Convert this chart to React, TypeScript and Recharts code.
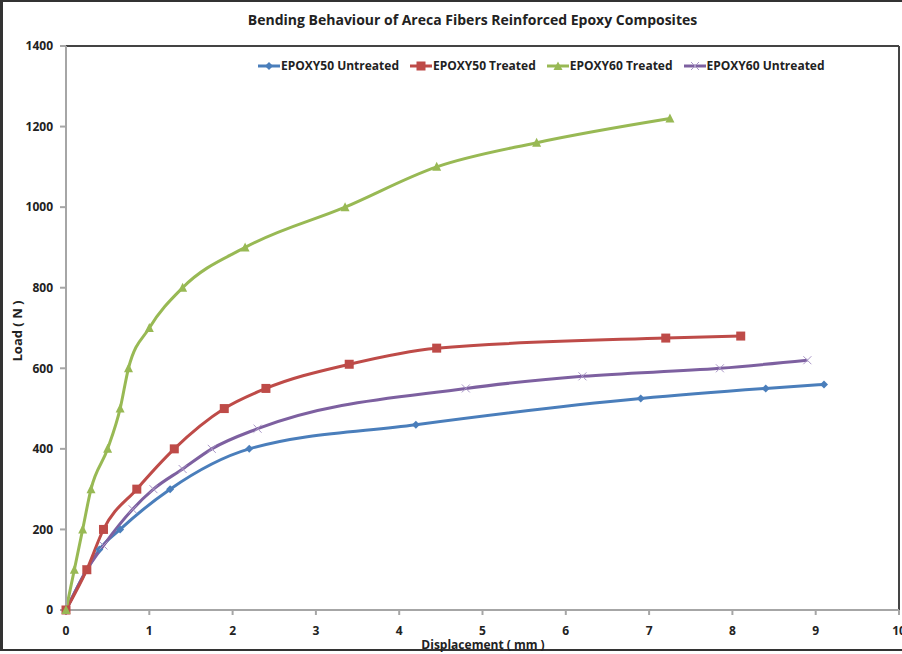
import { CartesianGrid, Line, LineChart, ReferenceLine, XAxis, YAxis } from "recharts";

// displacement (mm) and load (N)
const untreated50X = [0, 0.25, 0.4, 0.65, 1.25, 2.2, 4.2, 6.9, 8.4, 9.1];
const untreated50Y = [0, 100, 150, 200, 300, 400, 460, 525, 550, 560];

const treated50X = [0, 0.25, 0.45, 0.85, 1.3, 1.9, 2.4, 3.4, 4.45, 7.2, 8.1];
const treated50Y = [0, 100, 200, 300, 400, 500, 550, 610, 650, 675, 680];

const treated60X = [0, 0.1, 0.2, 0.3, 0.5, 0.65, 0.75, 1.0, 1.4, 2.15, 3.35, 4.45, 5.65, 7.25];
const treated60Y = [0, 100, 200, 300, 400, 500, 600, 700, 800, 900, 1000, 1100, 1160, 1220];

const untreated60X = [0, 0.25, 0.45, 0.8, 1.05, 1.4, 1.75, 2.3, 4.8, 6.2, 7.85, 8.9];
const untreated60Y = [0, 100, 160, 250, 300, 350, 400, 450, 550, 580, 600, 620];

const xTicks = [0, 1, 2, 3, 4, 5, 6, 7, 8, 9, 10];
const yTicks = [0, 200, 400, 600, 800, 1000, 1200, 1400];

const seriesNames = ["EPOXY50 Untreated", "EPOXY50 Treated", "EPOXY60 Treated", "EPOXY60 Untreated"];

const toPoints = (xs: number[], ys: number[]) => xs.map((x, i) => ({ x, y: ys[i] }));

const BLUE = "#4a7ebb";
const RED = "#be4b48";
const GREEN = "#98b954";
const PURPLE = "#7d60a0";
const FONT = "'Open Sans', sans-serif";

const Diamond = (p: any) => {
	const { cx, cy, index } = p;
	const r = 4;
	return (
		<path
			key={"d" + index}
			d={`M${cx},${cy - r}L${cx + r},${cy}L${cx},${cy + r}L${cx - r},${cy}Z`}
			fill={BLUE}
		/>
	);
};

const Square = (p: any) => {
	const { cx, cy, index } = p;
	return <rect key={"s" + index} x={cx - 4.5} y={cy - 4.5} width={9} height={9} fill={RED} />;
};

const Triangle = (p: any) => {
	const { cx, cy, index } = p;
	return (
		<path key={"t" + index} d={`M${cx},${cy - 5}L${cx + 4.5},${cy + 4}L${cx - 4.5},${cy + 4}Z`} fill={GREEN} />
	);
};

const Cross = (p: any) => {
	const { cx, cy, index } = p;
	const r = 4;
	return (
		<g key={"x" + index} stroke="#a996c6" strokeWidth={1}>
			<line x1={cx - r} y1={cy - r} x2={cx + r} y2={cy + r} />
			<line x1={cx - r} y1={cy + r} x2={cx + r} y2={cy - r} />
		</g>
	);
};

const legendItems = [
	{ name: seriesNames[0], color: BLUE, mark: "diamond" },
	{ name: seriesNames[1], color: RED, mark: "square" },
	{ name: seriesNames[2], color: GREEN, mark: "triangle" },
	{ name: seriesNames[3], color: PURPLE, mark: "cross" },
];

function LegendMark({ color, mark }: { color: string; mark: string }) {
	return (
		<svg width={22} height={10} style={{ marginRight: 1 }}>
			<line x1={0} y1={5} x2={22} y2={5} stroke={color} strokeWidth={3} />
			{mark === "diamond" && <path d="M11,1L15,5L11,9L7,5Z" fill={color} />}
			{mark === "square" && <rect x={6.5} y={0.5} width={9} height={9} fill={color} />}
			{mark === "triangle" && <path d="M11,0.5L15.5,9L6.5,9Z" fill={color} />}
			{mark === "cross" && (
				<g stroke="#a996c6" strokeWidth={1}>
					<line x1={7} y1={1} x2={15} y2={9} />
					<line x1={7} y1={9} x2={15} y2={1} />
				</g>
			)}
		</svg>
	);
}

export default function App() {
	return (
		<div
			style={{
				position: "absolute",
				left: 0,
				top: 0,
				width: 902,
				height: 654,
				background: "#fff",
				fontFamily: FONT,
			}}
		>
			<div
				style={{
					position: "absolute",
					left: 0,
					top: 0,
					width: 902,
					height: 651,
					borderLeft: "3px solid #333",
					borderTop: "2px solid #333",
					borderBottom: "2px solid #333",
					boxSizing: "border-box",
				}}
			/>
			<div
				style={{
					position: "absolute",
					left: 0,
					width: 945,
					top: 10,
					textAlign: "center",
					fontSize: 14,
					fontWeight: 700,
					color: "#222",
				}}
			>
				Bending Behaviour of Areca Fibers Reinforced Epoxy Composites
			</div>
			<div
				style={{
					position: "absolute",
					left: 258,
					top: 57,
					display: "flex",
					alignItems: "center",
					fontSize: 12,
					fontWeight: 700,
					color: "#222",
				}}
			>
				{legendItems.map((it) => (
					<div key={it.name} style={{ display: "flex", alignItems: "center", marginRight: 11 }}>
						<LegendMark color={it.color} mark={it.mark} />
						<span>{it.name}</span>
					</div>
				))}
			</div>
			<div
				style={{
					position: "absolute",
					left: 17,
					top: 331,
					transform: "translate(-50%, -50%) rotate(-90deg)",
					fontSize: 13,
					fontWeight: 700,
					color: "#222",
					whiteSpace: "nowrap",
				}}
			>
				Load ( N )
			</div>
			<div
				style={{
					position: "absolute",
					left: 483,
					top: 636,
					transform: "translateX(-50%)",
					fontSize: 12,
					fontWeight: 700,
					color: "#222",
					whiteSpace: "nowrap",
				}}
			>
				Displacement ( mm )
			</div>
			<div style={{ position: "absolute", left: 0, top: 0 }}>
				<LineChart width={902} height={654} margin={{ top: 46, right: 3, bottom: 14, left: 0 }}>
					<CartesianGrid stroke="none" />
					<XAxis
						type="number"
						dataKey="x"
						domain={[0, 10]}
						ticks={xTicks}
						interval={0}
						height={30}
						stroke="#a6a6a6"
						strokeWidth={2}
						tickSize={5}
						tickMargin={11}
						tick={{ fill: "#222", fontSize: 12, fontWeight: 700, fontFamily: FONT }}
					/>
					<YAxis
						type="number"
						dataKey="y"
						domain={[0, 1400]}
						ticks={yTicks}
						interval={0}
						width={66}
						stroke="#a6a6a6"
						strokeWidth={2}
						tickSize={6}
						tickMargin={7}
						tick={{ fill: "#222", fontSize: 12, fontWeight: 700, fontFamily: FONT }}
					/>
					<ReferenceLine y={1400} stroke="#444" strokeWidth={2} />
					<ReferenceLine x={10} stroke="#444" strokeWidth={2} />
					<Line
						data={toPoints(untreated50X, untreated50Y)}
						dataKey="y"
						name={seriesNames[0]}
						type="monotone"
						stroke={BLUE}
						strokeWidth={3}
						dot={Diamond}
						isAnimationActive={false}
					/>
					<Line
						data={toPoints(untreated60X, untreated60Y)}
						dataKey="y"
						name={seriesNames[3]}
						type="monotone"
						stroke={PURPLE}
						strokeWidth={3}
						dot={Cross}
						isAnimationActive={false}
					/>
					<Line
						data={toPoints(treated50X, treated50Y)}
						dataKey="y"
						name={seriesNames[1]}
						type="monotone"
						stroke={RED}
						strokeWidth={3}
						dot={Square}
						isAnimationActive={false}
					/>
					<Line
						data={toPoints(treated60X, treated60Y)}
						dataKey="y"
						name={seriesNames[2]}
						type="monotone"
						stroke={GREEN}
						strokeWidth={3}
						dot={Triangle}
						isAnimationActive={false}
					/>
				</LineChart>
			</div>
		</div>
	);
}
